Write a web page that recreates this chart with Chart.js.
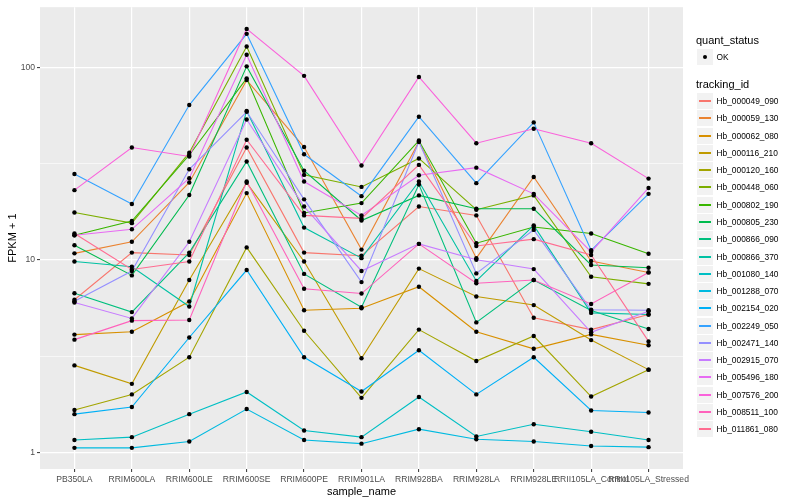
<!DOCTYPE html>
<html><head><meta charset="utf-8">
<script src="https://cdn.jsdelivr.net/npm/chart.js@4.4.1/dist/chart.umd.min.js"></script>
<style>
body{margin:0;background:#fff;}
#wrap{position:relative;width:800px;height:500px;font-family:"Liberation Sans",Arial,Helvetica,sans-serif;}
#c{position:absolute;left:0;top:0;}
.t{position:absolute;white-space:nowrap;color:#000;line-height:13px;}
.key{position:absolute;width:16px;height:16px;background:#F2F2F2;}
.key i{position:absolute;left:2px;width:12px;top:7px;height:2px;}
.key b{position:absolute;left:6px;top:6px;width:4px;height:4px;border-radius:50%;background:#000;}
.lab{position:absolute;white-space:nowrap;font-size:8.4px;line-height:10px;color:#000;}
</style></head><body>
<div id="wrap"><canvas id="c" width="800" height="500"></canvas><div id="legend"></div></div>
<script>
const categories = ["PB350LA","RRIM600LA","RRIM600LE","RRIM600SE","RRIM600PE","RRIM901LA","RRIM928BA","RRIM928LA","RRIM928LE","RRII105LA_Control","RRII105LA_Stressed"];
const trackingIds = ["Hb_000049_090","Hb_000059_130","Hb_000062_080","Hb_000116_210","Hb_000120_160","Hb_000448_060","Hb_000802_190","Hb_000805_230","Hb_000866_090","Hb_000866_370","Hb_001080_140","Hb_001288_070","Hb_002154_020","Hb_002249_050","Hb_002471_140","Hb_002915_070","Hb_005496_180","Hb_007576_200","Hb_008511_100","Hb_011861_080"];
const seriesColors = ["#F8766D","#EA8331","#D89000","#C09B00","#A3A500","#7CAE00","#39B600","#00BB4E","#00BF7D","#00C1A3","#00BFC4","#00BAE0","#00B0F6","#35A2FF","#9590FF","#C77CFF","#E76BF3","#FA62DB","#FF62BC","#FF6C91"];
const yTickValues = [1, 10, 100];
const yMinorValues = [3.1623, 31.623];

// FPKM + 1 per sample, in the order of categories
const hb_000049_090 = [6.2, 10.9, 10.6, 38.3, 10.9, 10.5, 18.9, 17.0, 5.0, 4.34, 5.2];
const hb_000059_130 = [10.8, 12.4, 25.2, 85.7, 38.5, 11.3, 41, 10.2, 26.9, 9.85, 8.6];
const hb_000062_080 = [4.09, 4.23, 6.07, 22.2, 5.47, 5.6, 7.25, 4.23, 3.45, 4.1, 3.6];
const hb_000116_210 = [2.83, 2.27, 7.85, 25.1, 9.8, 3.08, 9.0, 6.45, 5.82, 3.83, 2.69];
const hb_000120_160 = [1.66, 2.0, 3.12, 11.6, 4.28, 1.92, 4.34, 2.98, 4.02, 1.95, 2.69];
const hb_000448_060 = [17.6, 15.5, 36, 128, 27.6, 23.9, 33.6, 18.2, 21.6, 8.17, 7.5];
const hb_000802_190 = [13.4, 15.9, 35, 87.5, 17.5, 19.7, 41.6, 12.2, 14.8, 13.7, 10.75];
const hb_000805_230 = [11.9, 8.3, 21.7, 101, 29, 16.0, 21.6, 18.4, 18.4, 9.4, 9.1];
const hb_000866_090 = [6.7, 5.35, 10.9, 32.4, 8.45, 5.67, 24.6, 4.73, 7.85, 5.45, 4.37];
const hb_000866_370 = [9.8, 9.2, 5.72, 59.3, 14.7, 10.2, 25.5, 7.77, 15.1, 5.3, 5.2];
const hb_001080_140 = [1.16, 1.20, 1.58, 2.06, 1.30, 1.20, 1.94, 1.21, 1.40, 1.28, 1.16];
const hb_001288_070 = [1.056, 1.056, 1.14, 1.68, 1.16, 1.11, 1.32, 1.17, 1.14, 1.08, 1.065];
const hb_002154_020 = [1.58, 1.72, 3.95, 8.85, 3.12, 2.07, 3.39, 2.0, 3.12, 1.65, 1.61];
const hb_002249_050 = [27.9, 19.5, 63.6, 149, 35.3, 21.4, 55.3, 25.0, 51.7, 11.2, 22.0];
const hb_002471_140 = [6.1, 8.75, 29.5, 58.7, 20.6, 7.66, 41, 8.5, 14.3, 5.5, 5.47];
const hb_002915_070 = [6.0, 4.96, 12.4, 53.5, 18.9, 8.75, 12.1, 10.0, 8.95, 4.2, 5.4];
const hb_005496_180 = [13.4, 14.4, 26.5, 116, 25.5, 17.0, 27.5, 30.1, 22.0, 11.0, 23.6];
const hb_007576_200 = [23.0, 38.3, 34.4, 158, 90.2, 30.9, 89, 40.3, 47.9, 40.3, 26.4];
const hb_008511_100 = [3.85, 4.83, 4.87, 25.5, 7.07, 6.68, 12.1, 7.56, 7.85, 5.9, 8.6];
const hb_011861_080 = [13.7, 8.9, 9.8, 42, 17.0, 16.4, 31.1, 11.8, 12.8, 10.6, 3.77];

const seriesValues = [hb_000049_090, hb_000059_130, hb_000062_080, hb_000116_210, hb_000120_160, hb_000448_060, hb_000802_190, hb_000805_230, hb_000866_090, hb_000866_370, hb_001080_140, hb_001288_070, hb_002154_020, hb_002249_050, hb_002471_140, hb_002915_070, hb_005496_180, hb_007576_200, hb_008511_100, hb_011861_080];

const toPoints = vals => vals.map((v, j) => ({x: j, y: v}));
const datasets = [];
seriesValues.forEach((vals, i) => {
  datasets.push({type: 'line', label: trackingIds[i], data: toPoints(vals), borderColor: seriesColors[i],
    borderWidth: 1.1, pointRadius: 0, pointHoverRadius: 0, fill: false, tension: 0, order: 21 - i});
});
seriesValues.forEach((vals, i) => {
  datasets.push({type: 'scatter', label: trackingIds[i] + ' OK', data: toPoints(vals), showLine: false,
    pointRadius: 2.2, pointHoverRadius: 2.2, pointBackgroundColor: '#000', pointBorderWidth: 0, order: 0});
});

const isMajor = v => yTickValues.some(t => Math.abs(t - v) < 1e-6);
const panelBg = {id: 'panelBg', beforeDraw(chart) {
  const {ctx, chartArea: a} = chart;
  ctx.save(); ctx.fillStyle = '#EBEBEB'; ctx.fillRect(a.left, a.top, a.right - a.left, a.bottom - a.top); ctx.restore();
}};
const fontFam = '"Liberation Sans", Arial, Helvetica, sans-serif';

new Chart(document.getElementById('c'), {
  type: 'line',
  data: {datasets},
  plugins: [panelBg],
  options: {
    responsive: false, animation: false, devicePixelRatio: 1,
    layout: {padding: {top: 5, right: 117, left: 0, bottom: 0}},
    plugins: {legend: {display: false}, tooltip: {enabled: false}},
    events: [],
    scales: {
      x: {
        type: 'linear', min: -0.6, max: 10.6,
        afterBuildTicks: s => { s.ticks = categories.map((c, i) => ({value: i})); },
        afterFit: s => { s.height = 31; },
        ticks: {callback: v => categories[v] ?? '', font: {size: 8.6, family: fontFam}, color: '#4D4D4D',
          maxRotation: 0, minRotation: 0, autoSkip: false, padding: 2.5},
        grid: {color: '#FFFFFF', lineWidth: 1.2, tickLength: 3, tickColor: '#333333', tickWidth: 1},
        border: {display: false},
        title: {display: true, text: 'sample_name', color: '#000', font: {size: 11, family: fontFam}, padding: {top: 0, bottom: 1.5}}
      },
      y: {
        type: 'logarithmic', min: 0.82, max: 205,
        afterBuildTicks: s => { s.ticks = yTickValues.concat(yMinorValues).sort((a, b) => a - b).map(v => ({value: v})); },
        afterFit: s => { s.width = 40; },
        ticks: {callback: v => isMajor(v) ? String(Math.round(v)) : '', font: {size: 8.6, family: fontFam}, color: '#4D4D4D', padding: 2, autoSkip: false},
        grid: {color: '#FFFFFF', lineWidth: c => isMajor(c.tick.value) ? 1.2 : 0.6, tickLength: 3,
          tickColor: c => isMajor(c.tick.value) ? '#333333' : 'rgba(0,0,0,0)', tickWidth: 1},
        border: {display: false},
        title: {display: true, text: 'FPKM + 1', color: '#000', font: {size: 11, family: fontFam}, padding: {top: 6, bottom: 0}}
      }
    }
  }
});

// ggplot-style legend
const lg = document.getElementById('legend');
let html = '';
html += '<div class="t" style="left:696px;top:34px;font-size:11px;">quant_status</div>';
html += '<div class="key" style="left:697px;top:49px;"><b></b></div>';
html += '<div class="lab" style="left:716.5px;top:52px;">OK</div>';
html += '<div class="t" style="left:696px;top:77.5px;font-size:11px;">tracking_id</div>';
trackingIds.forEach((id, i) => {
  const cy = 101 + i * 17.28;
  html += '<div class="key" style="left:697px;top:' + Math.round(cy - 8) + 'px;"><i style="background:' + seriesColors[i] + '"></i></div>';
  html += '<div class="lab" style="left:716.5px;top:' + Math.round(cy - 5) + 'px;">' + id + '</div>';
});
lg.innerHTML = html;
</script>
</body></html>
